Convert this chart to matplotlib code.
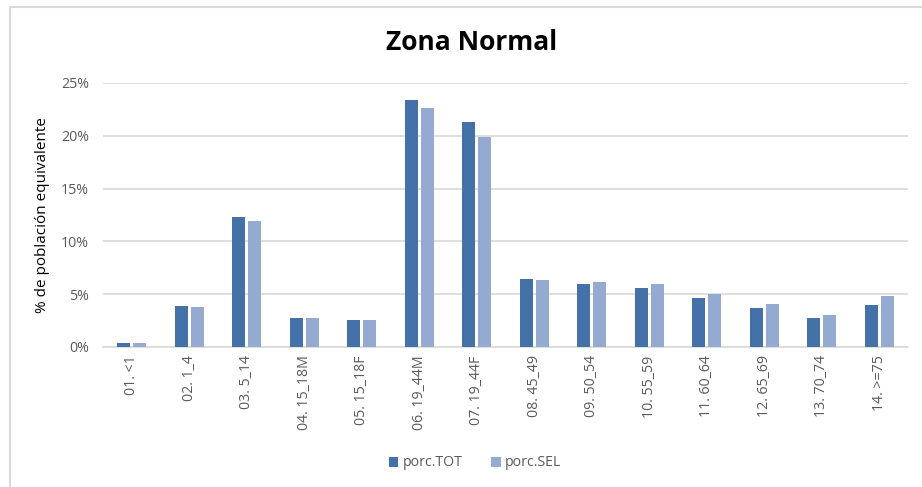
import numpy as np
import matplotlib.pyplot as plt
from matplotlib.lines import Line2D
from matplotlib.ticker import PercentFormatter

categories = ['01. <1', '02. 1_4', '03. 5_14', '04. 15_18M', '05. 15_18F',
              '06. 19_44M', '07. 19_44F', '08. 45_49', '09. 50_54',
              '10. 55_59', '11. 60_64', '12. 65_69', '13. 70_74', '14. >=75']
porc_tot = [0.4, 3.9, 12.35, 2.7, 2.6, 23.4, 21.3, 6.4, 6.0, 5.55, 4.65, 3.65, 2.7, 4.0]
porc_sel = [0.4, 3.8, 11.9, 2.7, 2.6, 22.6, 19.9, 6.3, 6.2, 5.95, 5.05, 4.05, 3.05, 4.8]

c_tot = '#4472a8'
c_sel = '#94aad0'
txt = '#595959'

plt.rcParams['font.family'] = ['Open Sans', 'DejaVu Sans']

fig = plt.figure(figsize=(9.22, 4.87), dpi=100)
ax = fig.add_axes([103 / 922, 1 - 347 / 487, 805 / 922, 264 / 487])

x = np.arange(len(categories))
w = 0.225
ax.bar(x - 0.14, porc_tot, w, color=c_tot, label='porc.TOT', zorder=3)
ax.bar(x + 0.14, porc_sel, w, color=c_sel, label='porc.SEL', zorder=3)

ax.set_xlim(-0.5, len(categories) - 0.5)
ax.set_ylim(0, 25)
ax.set_yticks(range(0, 26, 5))
ax.yaxis.set_major_formatter(PercentFormatter(decimals=0))
ax.grid(axis='y', color='#d9d9d9', linewidth=1.2, zorder=0)
for s in ['top', 'right', 'left']:
    ax.spines[s].set_visible(False)
ax.spines['bottom'].set_color('#d9d9d9')
ax.spines['bottom'].set_linewidth(1.2)

ax.set_xticks(x)
ax.set_xticklabels(categories, rotation=90, fontsize=10.2, color=txt)
ax.tick_params(axis='x', length=0, pad=6)
ax.tick_params(axis='y', length=0, labelsize=10.2, labelcolor=txt, pad=10)

ax.set_ylabel('% de población equivalente', fontsize=11, color='black', labelpad=8)

fig.text(472 / 922, 1 - 43 / 487, 'Zona Normal', ha='center', va='center',
         fontsize=19, fontweight='bold', color='black')

ax.legend(loc='center', bbox_to_anchor=(475 / 922, 1 - 463 / 487),
          bbox_transform=fig.transFigure, ncol=2, frameon=False,
          fontsize=10.2, labelcolor=txt, handlelength=0.7, handleheight=0.7,
          handletextpad=0.3, columnspacing=2.0)

# chart border (top and left edges visible)
fig.add_artist(Line2D([10 / 922, 10 / 922], [0, 1 - 7 / 487],
                      transform=fig.transFigure, color='#d9d9d9', linewidth=1.5))
fig.add_artist(Line2D([10 / 922, 1], [1 - 7 / 487, 1 - 7 / 487],
                      transform=fig.transFigure, color='#d9d9d9', linewidth=1.5))

fig.savefig('out.png', dpi=100)
